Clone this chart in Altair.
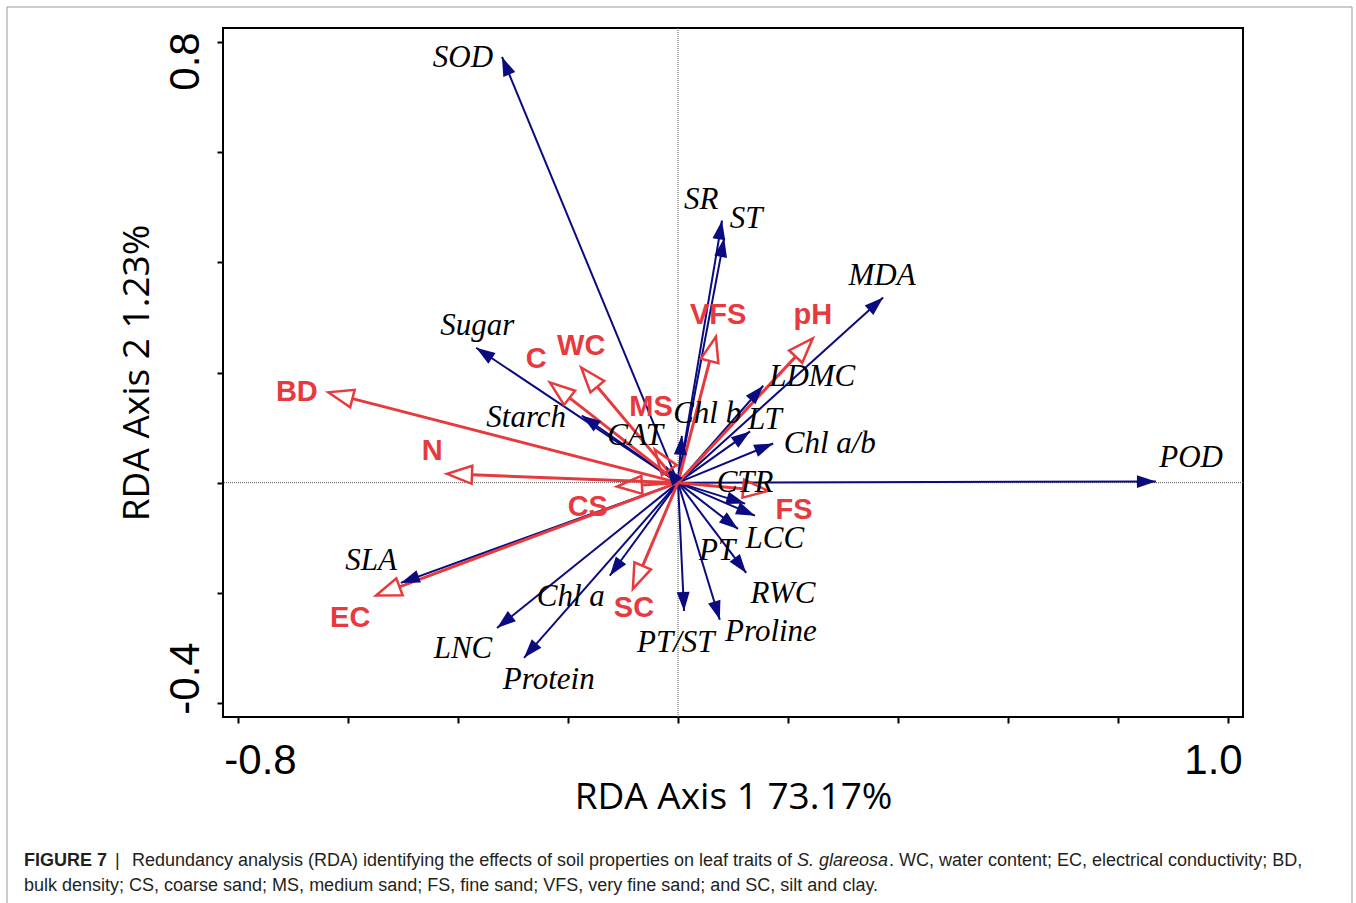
import altair as alt
import pandas as pd

# ---------------- data ----------------
trait_names = ["SOD", "SR", "ST", "MDA", "Sugar", "Starch", "CAT", "Chl b", "LDMC", "LT",
               "Chl a/b", "POD", "CTR", "LCC", "PT", "RWC", "Proline", "PT/ST", "Chl a",
               "LNC", "Protein", "SLA"]
trait_x = [-0.320, 0.080, 0.084, 0.373, -0.367, -0.175, -0.022, 0.007, 0.155, 0.131,
           0.173, 0.869, 0.122, 0.140, 0.109, 0.124, 0.076, 0.011, -0.124,
           -0.329, -0.280, -0.504]
trait_y = [0.773, 0.476, 0.444, 0.336, 0.245, 0.122, 0.029, 0.085, 0.176, 0.093,
           0.071, 0.002, -0.038, -0.060, -0.084, -0.164, -0.249, -0.233, -0.169,
           -0.264, -0.318, -0.182]
trait_label_x = [-0.391, 0.042, 0.124, 0.371, -0.365, -0.276, -0.078, 0.053, 0.244, 0.158,
                 0.276, 0.933, 0.122, 0.176, 0.071, 0.191, 0.169, -0.004, -0.195,
                 -0.391, -0.235, -0.558]
trait_label_y = [0.771, 0.513, 0.478, 0.375, 0.284, 0.118, 0.085, 0.124, 0.191, 0.113,
                 0.071, 0.044, 0.000, -0.102, -0.125, -0.202, -0.271, -0.291, -0.207,
                 -0.302, -0.358, -0.142]

soil_names = ["BD", "N", "C", "WC", "MS", "VFS", "pH", "CS", "FS", "SC", "EC"]
soil_x = [-0.636, -0.420, -0.233, -0.176, -0.042, 0.069, 0.245, -0.111, 0.164, -0.082, -0.549]
soil_y = [0.164, 0.016, 0.182, 0.209, 0.060, 0.265, 0.262, -0.007, -0.015, -0.193, -0.205]
soil_label_x = [-0.693, -0.447, -0.258, -0.176, -0.049, 0.073, 0.245, -0.164, 0.211, -0.080, -0.596]
soil_label_y = [0.164, 0.058, 0.224, 0.249, 0.138, 0.305, 0.305, -0.045, -0.049, -0.227, -0.245]

x_ticks = [-0.8, -0.6, -0.4, -0.2, 0.0, 0.2, 0.4, 0.6, 0.8, 1.0]
y_ticks = [-0.4, -0.2, 0.0, 0.2, 0.4, 0.6, 0.8]

x_title = "RDA Axis 1 73.17%"
y_title = "RDA Axis 2 1.23%"

caption_bold = "FIGURE 7"
caption_bar = "|"
caption_1a = "Redundancy analysis (RDA) identifying the effects of soil properties on leaf traits of"
caption_1b = "S. glareosa"
caption_1c = ". WC, water content; EC, electrical conductivity; BD,"
caption_2 = ("bulk density; CS, coarse sand; MS, medium sand; FS, fine sand; VFS, very fine sand; "
             "and SC, silt and clay.")

# ---------------- styling ----------------
BLUE = "#0b0b80"
RED = "#e63a3e"
W, H = 1020, 689
PAD_L, PAD_T = 223, 28
MINUS = "\u2212"

traits = pd.DataFrame({"name": trait_names, "x": trait_x, "y": trait_y,
                       "lx": trait_label_x, "ly": trait_label_y})
soil = pd.DataFrame({"name": soil_names, "x": soil_x, "y": soil_y,
                     "lx": soil_label_x, "ly": soil_label_y})

xs = alt.Scale(domain=[-0.8273, 1.0273], nice=False, zero=False)
ys = alt.Scale(domain=[-0.4255, 0.8255], nice=False, zero=False)

x_axis = alt.Axis(
    values=x_ticks, format=".1f", grid=False, domain=False,
    labelExpr="(datum.value < -0.79 || datum.value > 0.99) ? replace(datum.label, '%s', '-') : ''" % MINUS,
    tickSize=6, tickWidth=2, tickColor="black",
    labelFont="Liberation Sans", labelFontSize=42, labelColor="black", labelPadding=17,
    labelOffset=alt.condition("datum.value < 0", alt.value(22), alt.value(-15)),
    title=x_title, titleFont="Open Sans", titleFontSize=37, titleFontWeight="normal",
    titleColor="black", titlePadding=-2,
)
y_axis = alt.Axis(
    values=y_ticks, format=".1f", grid=False, domain=False,
    labelExpr="(datum.value < -0.39 || datum.value > 0.79) ? replace(datum.label, '%s', '-') : ''" % MINUS,
    tickSize=6, tickWidth=2, tickColor="black",
    labelFont="Liberation Sans", labelFontSize=42, labelColor="black", labelPadding=10,
    labelAngle=270, labelAlign="center", labelBaseline="bottom",
    labelOffset=alt.condition("datum.value > 0", alt.value(19), alt.value(-25)),
    title=y_title, titleFont="Open Sans", titleFontSize=37, titleFontWeight="normal",
    titleColor="black", titlePadding=8,
)

HEAD_B = "M0,0 L-0.34,1 L0.34,1 Z"
HEAD_R = "M0,0 L-0.36,1 L0.36,1 Z"
ANG = "(atan2(datum.x, datum.y) * 180 / PI + 360) % 360"

base_t = alt.Chart(traits).transform_calculate(x0="0", y0="0", ang=ANG)
base_s = alt.Chart(soil).transform_calculate(
    x0="0", y0="0", ang=ANG,
    L="sqrt(datum.x*datum.x + datum.y*datum.y)",
).transform_calculate(
    bx="datum.x * (1 - (25/550) / datum.L)",
    by="datum.y * (1 - (25/550) / datum.L)",
)

zero_v = alt.Chart(pd.DataFrame({"v": [0.0]})).mark_rule(
    color="#555", strokeWidth=1, strokeDash=[1, 1]
).encode(x=alt.X("v:Q", scale=xs, axis=x_axis))
zero_h = alt.Chart(pd.DataFrame({"v": [0.0]})).mark_rule(
    color="#555", strokeWidth=1, strokeDash=[1, 1]
).encode(y=alt.Y("v:Q", scale=ys, axis=y_axis))

blue_lines = base_t.mark_rule(color=BLUE, strokeWidth=2).encode(
    x=alt.X("x0:Q", scale=xs), y=alt.Y("y0:Q", scale=ys), x2="x:Q", y2="y:Q")
blue_heads = base_t.mark_point(shape=HEAD_B, filled=True, size=1444, color=BLUE,
                               opacity=1, strokeWidth=0.5).encode(
    x=alt.X("x:Q", scale=xs), y=alt.Y("y:Q", scale=ys),
    angle=alt.Angle("ang:Q", scale=None))

red_lines = base_s.mark_rule(color=RED, strokeWidth=3).encode(
    x=alt.X("x0:Q", scale=xs), y=alt.Y("y0:Q", scale=ys), x2="bx:Q", y2="by:Q")
red_heads = base_s.mark_point(shape=HEAD_R, filled=False, size=2500, color=RED,
                              opacity=1, strokeWidth=2.5).encode(
    x=alt.X("x:Q", scale=xs), y=alt.Y("y:Q", scale=ys),
    angle=alt.Angle("ang:Q", scale=None))

trait_text = alt.Chart(traits).mark_text(
    font="Liberation Serif", fontStyle="italic", fontSize=31, color="black",
    align="center", baseline="middle").encode(
    x=alt.X("lx:Q", scale=xs), y=alt.Y("ly:Q", scale=ys), text="name:N")
soil_text = alt.Chart(soil).mark_text(
    font="Liberation Sans", fontWeight="bold", fontSize=29, color=RED,
    align="center", baseline="middle").encode(
    x=alt.X("lx:Q", scale=xs), y=alt.Y("ly:Q", scale=ys), text="name:N")

one = pd.DataFrame({"a": [0]})


def cap(text, px, py, weight="normal", style="normal", size=18):
    return alt.Chart(one).mark_text(
        text=text, font="Liberation Sans", fontSize=size, fontWeight=weight,
        fontStyle=style, color="#231f20", align="left", baseline="middle"
    ).encode(x=alt.value(px - PAD_L), y=alt.value(py - PAD_T))


caption = [
    cap(caption_bold, 24, 861, weight="bold"),
    cap(caption_bar, 115, 861),
    cap(caption_1a, 132, 861),
    cap(caption_1b, 797, 861, style="italic"),
    cap(caption_1c, 889, 861),
    cap(caption_2, 24, 886),
]


def border(x1, y1, x2, y2):
    return alt.Chart(one).mark_rule(color="#9a9a9a", strokeWidth=1).encode(
        x=alt.value(x1 - PAD_L), y=alt.value(y1 - PAD_T),
        x2=alt.value(x2 - PAD_L), y2=alt.value(y2 - PAD_T))


borders = [border(7, 7, 1352, 7), border(7, 7, 7, 910), border(1352, 7, 1352, 910)]

chart = alt.layer(
    zero_v, zero_h, blue_lines, red_lines, blue_heads, red_heads,
    trait_text, soil_text, *caption, *borders
).properties(
    width=W, height=H,
    padding={"left": PAD_L, "top": PAD_T, "right": 1356 - PAD_L - W, "bottom": 903 - PAD_T - H},
    autosize=alt.AutoSizeParams(type="none"),
    background="white",
).configure_view(stroke="black", strokeWidth=2)

chart.save("out.html", embed_options={"renderer": "svg", "actions": False})
